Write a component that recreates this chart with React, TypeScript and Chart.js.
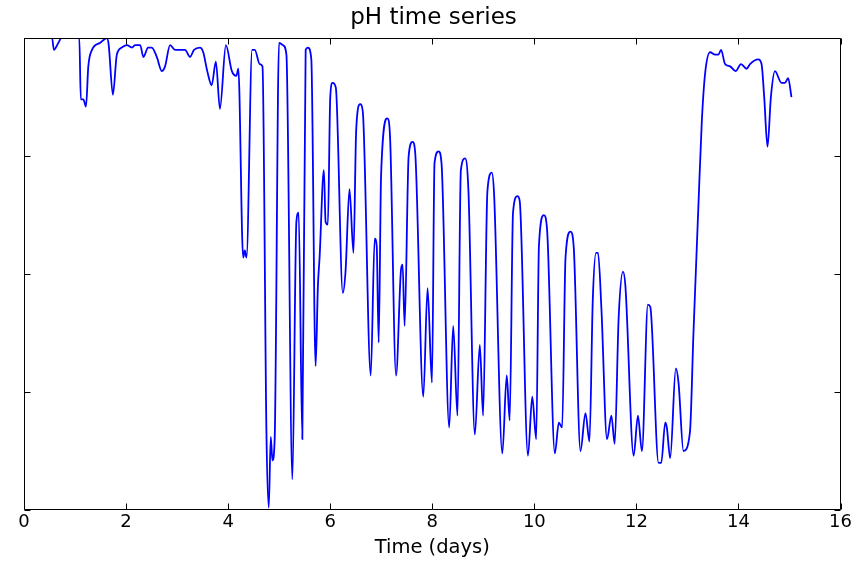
import { useEffect, useRef } from "react";
import { Chart, registerables } from "chart.js";

Chart.register(...registerables);

const chartTitle = "pH time series";
const xAxisLabel = "Time (days)";

const timeDays = [
  0, 0.551, 0.586, 0.674, 0.733, 1.084, 1.113, 1.162, 1.215, 1.26, 1.332, 1.494, 1.625, 1.66, 1.742,
  1.819, 1.917, 2.016, 2.114, 2.178, 2.276, 2.34, 2.432, 2.504, 2.602, 2.7, 2.764, 2.862, 2.96, 3.155,
  3.253, 3.331, 3.448, 3.512, 3.591, 3.677, 3.76, 3.839, 3.956, 4.073, 4.161, 4.2, 4.294, 4.327, 4.36,
  4.47, 4.522, 4.62, 4.673, 4.751, 4.796, 4.835, 4.868, 4.913, 4.997, 5.075, 5.142, 5.259, 5.337, 5.382,
  5.454, 5.519, 5.564, 5.63, 5.714, 5.759, 5.792, 5.876, 5.91, 5.954, 6.001, 6.046, 6.11, 6.247, 6.3,
  6.378, 6.456, 6.509, 6.587, 6.638, 6.794, 6.872, 6.911, 6.95, 6.997, 7.12, 7.173, 7.29, 7.388, 7.419,
  7.458, 7.537, 7.615, 7.667, 7.824, 7.908, 7.994, 8.044, 8.123, 8.181, 8.332, 8.41, 8.494, 8.56, 8.644,
  8.709, 8.834, 8.932, 8.996, 9.08, 9.166, 9.211, 9.373, 9.459, 9.517, 9.582, 9.666, 9.713, 9.875, 9.959,
  10.037, 10.09, 10.187, 10.252, 10.402, 10.48, 10.545, 10.611, 10.709, 10.773, 10.904, 11.002, 11.08,
  11.145, 11.209, 11.248, 11.315, 11.424, 11.51, 11.574, 11.653, 11.737, 11.784, 11.946, 12.03, 12.108,
  12.225, 12.272, 12.434, 12.487, 12.565, 12.596, 12.662, 12.772, 12.825, 12.922, 13.049, 13.118, 13.215,
  13.28, 13.346, 13.444, 13.542, 13.606, 13.659, 13.737, 13.835, 13.944, 14.05, 14.159, 14.226, 14.387,
  14.452, 14.504, 14.569, 14.635, 14.714, 14.843, 14.909, 14.973, 15.038,
];

const phValues = [
  9.0, 9.0, 8.95, 8.98, 9.0, 9.0, 8.74, 8.74, 8.71, 8.88, 8.95, 8.98, 9.0, 8.97, 8.76,
  8.93, 8.96, 8.97, 8.96, 8.97, 8.97, 8.92, 8.96, 8.96, 8.92, 8.86, 8.88, 8.97, 8.95, 8.95,
  8.92, 8.95, 8.96, 8.94, 8.86, 8.8, 8.9, 8.7, 8.97, 8.86, 8.84, 8.87, 8.07, 8.1, 8.07,
  8.95, 8.95, 8.89, 8.88, 7.32, 7.01, 7.31, 7.21, 7.31, 8.98, 8.97, 8.93, 7.13, 8.22, 8.26,
  7.3, 8.95, 8.96, 8.91, 7.61, 7.95, 8.07, 8.44, 8.22, 8.21, 8.75, 8.81, 8.79, 7.92, 8.01,
  8.36, 8.09, 8.61, 8.72, 8.69, 7.57, 8.15, 8.12, 7.71, 8.42, 8.66, 8.58, 7.57, 8.02, 8.04,
  7.78, 8.5, 8.56, 8.51, 7.48, 7.94, 7.54, 8.47, 8.52, 8.47, 7.35, 7.78, 7.4, 8.44, 8.49,
  8.35, 7.32, 7.7, 7.4, 8.35, 8.43, 8.34, 7.24, 7.57, 7.38, 8.26, 8.33, 8.31, 7.23, 7.48,
  7.3, 8.12, 8.25, 8.18, 7.24, 7.37, 7.35, 8.07, 8.18, 8.11, 7.25, 7.41, 7.29,
  7.89, 8.09, 8.09, 7.85, 7.3, 7.4, 7.28, 7.82, 8.01, 7.95, 7.23, 7.4, 7.25,
  7.87, 7.86, 7.2, 7.2, 7.37, 7.35, 7.22, 7.6, 7.54, 7.25, 7.33, 7.75, 8.29,
  8.64, 8.85, 8.94, 8.93, 8.93, 8.95, 8.89, 8.88, 8.86, 8.89, 8.87, 8.89, 8.91,
  8.89, 8.75, 8.54, 8.75, 8.86, 8.81, 8.81, 8.83, 8.75,
];

const xTicks = [0, 2, 4, 6, 8, 10, 12, 14, 16];
const yTicks = [7.0, 7.5, 8.0, 8.5, 9.0];

const FONT = "'DejaVu Sans', sans-serif";

const framePlugin = {
  id: "frame",
  afterDatasetsDraw(chart: any) {
    const { ctx, chartArea: a, scales } = chart;
    const L = Math.round(a.left) + 0.5;
    const R = Math.round(a.right) - 0.5;
    const T = Math.round(a.top) + 0.5;
    const B = Math.round(a.bottom) - 0.5;
    const len = 6;
    ctx.save();
    ctx.strokeStyle = "#000";
    ctx.lineWidth = 1;
    ctx.beginPath();
    ctx.rect(L, T, R - L, B - T);
    xTicks.forEach((v) => {
      const px = Math.round(scales.x.getPixelForValue(v)) + 0.5;
      ctx.moveTo(px, B);
      ctx.lineTo(px, B - len);
      ctx.moveTo(px, T);
      ctx.lineTo(px, T + len);
    });
    yTicks.forEach((v) => {
      const py = Math.round(scales.y.getPixelForValue(v)) + 0.5;
      ctx.moveTo(L, py);
      ctx.lineTo(L + len, py);
      ctx.moveTo(R, py);
      ctx.lineTo(R - len, py);
    });
    ctx.stroke();
    ctx.restore();
  },
};

export default function App() {
  const canvasRef = useRef<HTMLCanvasElement | null>(null);

  useEffect(() => {
    if (!canvasRef.current) return;
    const data = timeDays.map((t, i) => ({ x: t, y: phValues[i] }));
    const chart = new Chart(canvasRef.current, {
      type: "line",
      data: {
        datasets: [
          {
            label: "pH",
            data,
            borderColor: "#0000ff",
            borderWidth: 1.8,
            pointRadius: 0,
            fill: false,
            cubicInterpolationMode: "monotone",
          },
        ],
      },
      options: {
        animation: false,
        responsive: true,
        maintainAspectRatio: false,
        layout: { padding: { left: 24, right: 11, top: 0, bottom: 1 } },
        plugins: {
          legend: { display: false },
          tooltip: { enabled: false },
          title: {
            display: true,
            text: chartTitle,
            color: "#000",
            font: { family: FONT, size: 23, weight: "normal" },
            padding: { top: 4, bottom: 6.5 },
          },
        },
        scales: {
          x: {
            type: "linear",
            min: 0,
            max: 16,
            grid: { display: false, drawTicks: false },
            border: { display: false },
            ticks: {
              stepSize: 2,
              color: "#000",
              padding: 2,
              maxRotation: 0,
              font: { family: FONT, size: 18 },
            },
            title: {
              display: true,
              text: xAxisLabel,
              color: "#000",
              font: { family: FONT, size: 19.5 },
              padding: { top: 1, bottom: 0 },
            },
          },
          y: {
            type: "linear",
            display: false,
            min: 7,
            max: 9,
          },
        },
      },
      plugins: [framePlugin],
    });
    return () => chart.destroy();
  }, []);

  return (
    <div style={{ position: "absolute", left: 0, top: 0, width: 854, height: 561, background: "#fff" }}>
      <canvas ref={canvasRef} />
    </div>
  );
}
